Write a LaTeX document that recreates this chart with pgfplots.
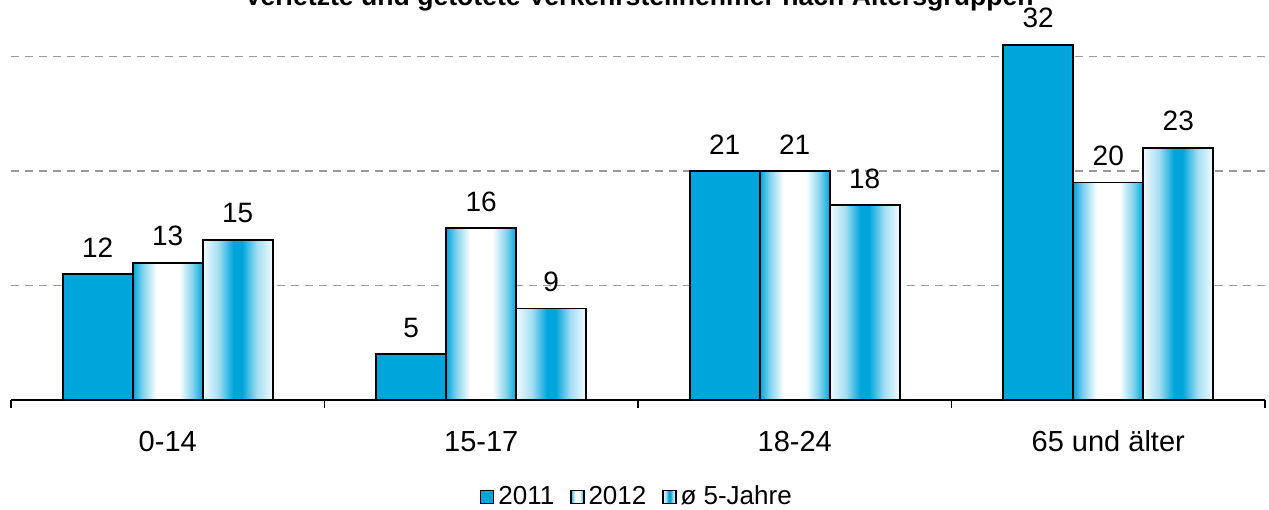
\documentclass[border=0pt]{standalone}
\usepackage{fontspec}
\setmainfont{Liberation Sans}
\usepackage{pgfplots}
\pgfplotsset{compat=1.18}
\definecolor{xblue}{RGB}{0,165,220}
\pgfdeclarehorizontalshading{edgeblue}{100bp}{color(0bp)=(xblue); color(25bp)=(xblue); color(32bp)=(xblue!50); color(42bp)=(white); color(58bp)=(white); color(68bp)=(xblue!50); color(75bp)=(xblue); color(100bp)=(xblue)}
\pgfdeclarehorizontalshading{centerblue}{100bp}{color(0bp)=(xblue!5); color(25bp)=(xblue!5); color(36bp)=(xblue!35); color(47bp)=(xblue); color(53bp)=(xblue); color(64bp)=(xblue!35); color(75bp)=(xblue!5); color(100bp)=(xblue!5)}
\pgfplotsset{
  sA/.style={draw=black, line width=0.9pt, fill=xblue, bar shift=-35pt},
  sB/.style={draw=black, line width=0.9pt, shade, shading=edgeblue, bar shift=0pt},
  sC/.style={draw=black, line width=0.9pt, shade, shading=centerblue, bar shift=35pt},
}
\begin{document}
\begin{tikzpicture}
\useasboundingbox (0,0) rectangle (634.5pt,254.5pt);
\begin{axis}[
  at={(5.5pt,54.5pt)}, anchor=south west,
  scale only axis, width=627pt, height=200.375pt,
  xmin=-0.5, xmax=3.5, ymin=1, ymax=36,
  clip=false,
  ybar=0pt, bar width=35pt,
  axis x line*=bottom, axis y line*=left,
  y axis line style={draw=none},
  x axis line style={line width=0.8pt, -},
  xtick={0,1,2,3}, xticklabels={0-14,15-17,18-24,65 und älter},
  major tick length=0pt, minor tick length=4pt, tick align=outside,
  minor xtick={-0.5,0.5,1.5,2.5,3.5},
  minor x tick style={black, line width=0.8pt},
  xticklabel style={font=\fontsize{14.5}{16}\selectfont, anchor=base, yshift=-25.5pt},
  ytick={11,21,31}, yticklabels={},
  ymajorgrids, y grid style={gray!80, dash pattern=on 4pt off 3pt, line width=0.6pt},
  /pgf/number format/assume math mode=true,
  nodes near coords,
  every node near coord/.append style={font=\fontsize{14}{16}\selectfont, text=black, anchor=south, inner sep=0pt, yshift=8pt},
  legend image code/.code={\draw[#1, line width=0.6pt] (0pt,-3.25pt) rectangle (6.5pt,3.25pt);},
  legend style={at={(axis description cs:0.5,-0.242)}, anchor=center, draw=none, legend columns=3,
    font=\fontsize{13}{14}\selectfont, /tikz/every even column/.append style={column sep=6pt}},
  legend cell align=left,
]
\addplot[sA] coordinates {(0,12) (1,5) (2,21) (3,32)};
\addplot[sB] coordinates {(0,13)};
\addplot[sC] coordinates {(0,15)};
\addplot[sB, forget plot] coordinates {(1,16)};
\addplot[sB, forget plot] coordinates {(2,21)};
\addplot[sB, forget plot] coordinates {(3,20)};
\addplot[sC, forget plot] coordinates {(1,9)};
\addplot[sC, forget plot] coordinates {(2,18)};
\addplot[sC, forget plot] coordinates {(3,23)};
\legend{2011, 2012, ø 5-Jahre}
\end{axis}
\node[anchor=base, font=\bfseries\fontsize{13.3}{15}\selectfont] at (319.5pt,251.5pt) {Verletzte und getötete Verkehrsteilnehmer nach Altersgruppen};
\end{tikzpicture}
\end{document}
